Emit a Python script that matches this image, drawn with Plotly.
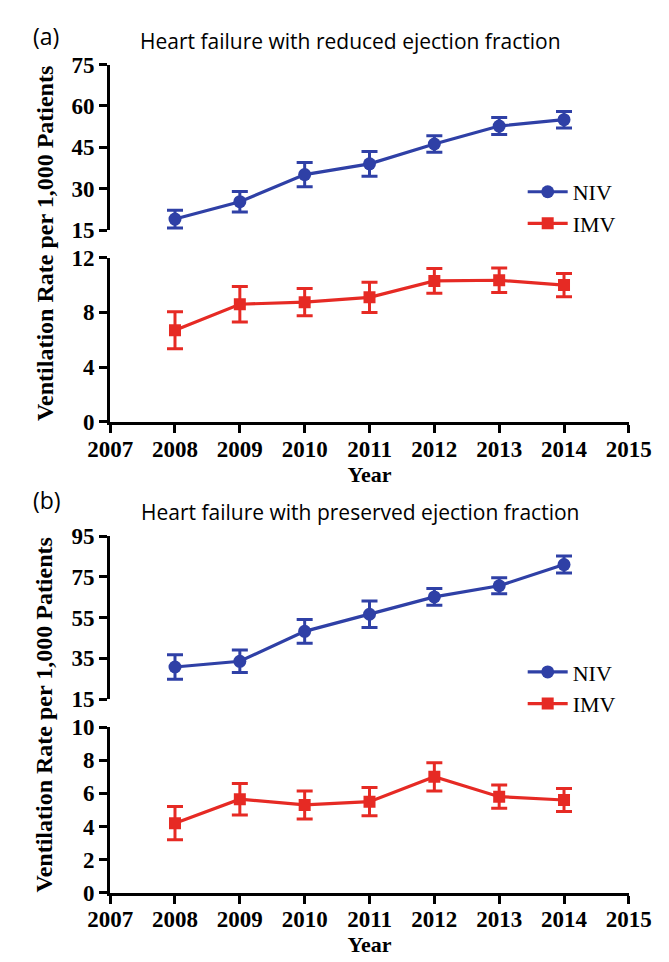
import plotly.graph_objects as go

years = [2008, 2009, 2010, 2011, 2012, 2013, 2014]
x_ticks = [2007, 2008, 2009, 2010, 2011, 2012, 2013, 2014, 2015]

# Panel (a): HFrEF
a_niv = [19.0, 25.3, 35.1, 39.0, 46.2, 52.7, 55.0]
a_niv_err = [3.2, 3.7, 4.4, 4.5, 3.0, 3.1, 3.0]
a_imv = [6.7, 8.6, 8.75, 9.1, 10.3, 10.35, 10.0]
a_imv_err = [1.35, 1.3, 1.0, 1.1, 0.9, 0.9, 0.85]

# Panel (b): HFpEF
b_niv = [30.8, 33.6, 48.3, 56.7, 65.2, 70.7, 81.1]
b_niv_err = [6.0, 5.5, 5.8, 6.5, 4.1, 3.9, 4.2]
b_imv = [4.2, 5.65, 5.3, 5.5, 7.0, 5.8, 5.6]
b_imv_err = [1.0, 0.95, 0.85, 0.85, 0.85, 0.7, 0.7]

a_niv_ticks = [15, 30, 45, 60, 75]
a_imv_ticks = [0, 4, 8, 12]
b_niv_ticks = [15, 35, 55, 75, 95]
b_imv_ticks = [0, 2, 4, 6, 8, 10]

BLUE = "#2f40a6"
RED = "#e62a24"
W, H = 669, 962
SERIF = "Liberation Serif"
SANS = "Open Sans"


def py(px):
    return 1 - px / H


def px_x(px):
    return px / W


fig = go.Figure()


def add(xax, yax, y, err, name, color, symbol, size, legend):
    fig.add_trace(go.Scatter(
        x=years, y=y, xaxis=xax, yaxis=yax, name=name, mode="lines+markers",
        line=dict(color=color, width=3.2),
        marker=dict(color=color, symbol=symbol, size=size),
        error_y=dict(type="data", array=err, color=color, thickness=3, width=8),
        legend=legend, showlegend=True,
    ))


add("x", "y", a_niv, a_niv_err, "NIV", BLUE, "circle", 13, "legend")
add("x", "y2", a_imv, a_imv_err, "IMV", RED, "square", 12, "legend")
add("x2", "y3", b_niv, b_niv_err, "NIV", BLUE, "circle", 13, "legend2")
add("x2", "y4", b_imv, b_imv_err, "IMV", RED, "square", 12, "legend2")

xdom = [px_x(85), px_x(642)]
tickfont = dict(family=SERIF, size=23, color="black", weight="bold")
common_ax = dict(showline=True, linewidth=3, linecolor="black", ticks="outside",
                 ticklen=8, tickwidth=3, tickcolor="black", showgrid=False,
                 zeroline=False, tickfont=tickfont)

xaxis_common = dict(domain=xdom, range=[2007, 2015], tickvals=x_ticks,
                    ticklabelstandoff=-4,
                    title=dict(text="Year", font=dict(family=SERIF, size=22, color="black", weight="bold"),
                               standoff=4),
                    **common_ax)

legend_font = dict(family=SERIF, size=22, color="black")

fig.update_layout(
    width=W, height=H,
    margin=dict(l=0, r=0, t=0, b=0),
    plot_bgcolor="white", paper_bgcolor="white",
    xaxis=dict(anchor="y2", **xaxis_common),
    xaxis2=dict(anchor="y4", **xaxis_common),
    yaxis=dict(anchor="x", domain=[py(215.7), py(45.7)], range=[15, 75],
               tickvals=a_niv_ticks, **common_ax),
    yaxis2=dict(anchor="x", domain=[py(412.7), py(244)], range=[0, 12],
                tickvals=a_imv_ticks, **common_ax),
    yaxis3=dict(anchor="x2", domain=[py(697.3), py(530)], range=[15, 95],
                tickvals=b_niv_ticks, **common_ax),
    yaxis4=dict(anchor="x2", domain=[py(896), py(726)], range=[0, 10],
                tickvals=b_imv_ticks, **common_ax),
    legend=dict(x=px_x(528), y=py(155), xanchor="left", yanchor="top",
                font=legend_font, bgcolor="rgba(0,0,0,0)", itemwidth=40,
                tracegroupgap=0),
    legend2=dict(x=px_x(528), y=py(648), xanchor="left", yanchor="top",
                 font=legend_font, bgcolor="rgba(0,0,0,0)", itemwidth=40,
                 tracegroupgap=0),
)

annotations = [
    dict(text="(a)", x=px_x(0), y=py(16), xanchor="left", yanchor="middle",
         font=dict(family=SANS, size=23, color="black")),
    dict(text="Heart failure with reduced ejection fraction", x=px_x(343), y=py(22),
         xanchor="center", yanchor="middle", font=dict(family=SANS, size=21, color="black")),
    dict(text="(b)", x=px_x(0), y=py(493), xanchor="left", yanchor="middle",
         font=dict(family=SANS, size=23, color="black")),
    dict(text="Heart failure with preserved ejection fraction", x=px_x(353), y=py(505),
         xanchor="center", yanchor="middle", font=dict(family=SANS, size=21, color="black")),
    dict(text="<b>Ventilation Rate per 1,000 Patients</b>", x=px_x(15), y=py(229),
         xanchor="center", yanchor="middle", textangle=-90,
         font=dict(family=SERIF, size=24, color="black")),
    dict(text="<b>Ventilation Rate per 1,000 Patients</b>", x=px_x(15), y=py(713),
         xanchor="center", yanchor="middle", textangle=-90,
         font=dict(family=SERIF, size=24, color="black")),
]
for a in annotations:
    a.update(xref="paper", yref="paper", showarrow=False)
fig.update_layout(annotations=annotations)

fig.write_html("out.html")
